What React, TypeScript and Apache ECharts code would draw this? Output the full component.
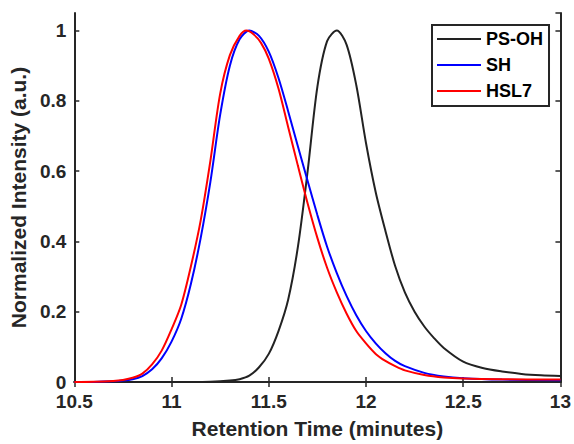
import React, { useEffect, useRef } from "react";
import * as echarts from "echarts";

// Retention times (minutes) and normalized intensities
const timesPSOH = [10.5, 11.0, 11.2, 11.3, 11.35, 11.4, 11.45, 11.5, 11.55, 11.6, 11.65, 11.7, 11.75, 11.8, 11.85, 11.9, 11.95, 12.0, 12.05, 12.1, 12.15, 12.2, 12.25, 12.3, 12.35, 12.4, 12.5, 12.6, 12.7, 12.8, 12.9, 13.0];
const valuesPSOH = [0, 0, 0.001, 0.004, 0.008, 0.018, 0.042, 0.08, 0.145, 0.235, 0.385, 0.6, 0.84, 0.97, 1.0, 0.96, 0.845, 0.68, 0.54, 0.43, 0.33, 0.255, 0.2, 0.158, 0.125, 0.097, 0.058, 0.04, 0.03, 0.023, 0.019, 0.017];

const timesSH = [10.5, 10.6, 10.7, 10.75, 10.8, 10.85, 10.9, 10.95, 11.0, 11.05, 11.1, 11.15, 11.2, 11.25, 11.3, 11.35, 11.4, 11.45, 11.5, 11.55, 11.6, 11.65, 11.7, 11.75, 11.8, 11.85, 11.9, 11.95, 12.0, 12.05, 12.1, 12.15, 12.2, 12.3, 12.4, 12.5, 12.7, 13.0];
const valuesSH = [0, 0.0003, 0.002, 0.004, 0.008, 0.017, 0.036, 0.068, 0.115, 0.18, 0.28, 0.41, 0.57, 0.76, 0.9, 0.975, 1.0, 0.985, 0.94, 0.865, 0.77, 0.67, 0.572, 0.475, 0.385, 0.31, 0.245, 0.19, 0.145, 0.11, 0.082, 0.06, 0.045, 0.026, 0.016, 0.011, 0.007, 0.005];

const timesHSL7 = [10.5, 10.6, 10.7, 10.75, 10.8, 10.85, 10.9, 10.95, 11.0, 11.05, 11.1, 11.15, 11.2, 11.25, 11.3, 11.35, 11.385, 11.42, 11.46, 11.5, 11.55, 11.6, 11.65, 11.7, 11.75, 11.8, 11.85, 11.9, 11.95, 12.0, 12.05, 12.1, 12.15, 12.2, 12.3, 12.4, 12.5, 12.7, 13.0];
const valuesHSL7 = [0, 0.0005, 0.003, 0.006, 0.012, 0.024, 0.05, 0.09, 0.15, 0.22, 0.33, 0.46, 0.63, 0.82, 0.93, 0.985, 1.0, 0.99, 0.965, 0.92, 0.835, 0.725, 0.615, 0.508, 0.41, 0.325, 0.255, 0.195, 0.145, 0.11, 0.08, 0.06, 0.045, 0.033, 0.02, 0.013, 0.01, 0.008, 0.007];

const seriesNames = ["PS-OH", "SH", "HSL7"];
const seriesColors = ["#222222", "#0000ff", "#ff0000"];

const xMin = 10.5;
const xMax = 13;
const xStep = 0.5;
const yMin = 0;
const yMax = 1.05;
const yStep = 0.2;

const pairs = (xs: number[], ys: number[]) => xs.map((x, i) => [x, ys[i]]);

export default function App() {
  const ref = useRef<HTMLDivElement>(null);

  useEffect(() => {
    if (!ref.current) return;
    const chart = echarts.init(ref.current, undefined, { renderer: "svg" });
    const font = "Arial, 'Liberation Sans', Helvetica, sans-serif";
    const axisColor = "#262626";
    const dataSets = [pairs(timesPSOH, valuesPSOH), pairs(timesSH, valuesSH), pairs(timesHSL7, valuesHSL7)];

    const baseAxisLine = { show: true, lineStyle: { color: axisColor, width: 2 } };
    const baseTick = { show: true, inside: true, length: 5, lineStyle: { color: axisColor, width: 1.5 } };
    const lineIcon = "path://M0,0 L44,0 L44,2 L0,2 Z";

    chart.setOption({
      animation: false,
      backgroundColor: "#ffffff",
      grid: { left: 74, right: 12, top: 13, bottom: 57, containLabel: false },
      legend: {
        data: seriesNames.map((n) => ({ name: n, icon: lineIcon })),
        orient: "vertical",
        left: 432,
        top: 25,
        itemWidth: 44,
        itemHeight: 14,
        itemGap: 8,
        symbolKeepAspect: true,
        padding: [5, 6, 6, 5],
        borderColor: axisColor,
        borderWidth: 2,
        backgroundColor: "#ffffff",
        textStyle: { fontFamily: font, fontWeight: "bold", fontSize: 18, color: "#000" },
      },
      xAxis: [
        {
          type: "value",
          min: xMin,
          max: xMax,
          interval: xStep,
          name: "Retention Time (minutes)",
          nameLocation: "middle",
          nameGap: 36,
          nameTextStyle: { fontFamily: font, fontWeight: "bold", fontSize: 21, color: "#262626" },
          axisLine: baseAxisLine,
          axisTick: baseTick,
          splitLine: { show: false },
          axisLabel: { fontFamily: font, fontWeight: "bold", fontSize: 19, color: "#262626", margin: 10 },
        },
        {
          type: "value",
          position: "top",
          min: xMin,
          max: xMax,
          interval: xStep,
          axisLine: baseAxisLine,
          axisTick: baseTick,
          splitLine: { show: false },
          axisLabel: { show: false },
        },
      ],
      yAxis: [
        {
          type: "value",
          min: yMin,
          max: yMax,
          interval: yStep,
          name: "Normalized Intensity (a.u.)",
          nameLocation: "middle",
          nameGap: 42,
          nameTextStyle: { fontFamily: font, fontWeight: "bold", fontSize: 21, color: "#262626" },
          axisLine: baseAxisLine,
          axisTick: baseTick,
          splitLine: { show: false },
          axisLabel: { fontFamily: font, fontWeight: "bold", fontSize: 19, color: "#262626", margin: 8, showMaxLabel: false },
        },
        {
          type: "value",
          position: "right",
          min: yMin,
          max: yMax,
          interval: yStep,
          axisLine: baseAxisLine,
          axisTick: baseTick,
          splitLine: { show: false },
          axisLabel: { show: false },
        },
      ],
      series: seriesNames.map((name, i) => ({
        name,
        type: "line",
        data: dataSets[i],
        xAxisIndex: 0,
        yAxisIndex: 0,
        symbol: "none",
        smooth: 0.3,
        color: seriesColors[i],
        lineStyle: { color: seriesColors[i], width: 2 },
        z: 3 + i,
      })),
    });

    return () => chart.dispose();
  }, []);

  return <div ref={ref} style={{ width: 574, height: 444, position: "absolute", left: 0, top: 0 }} />;
}
